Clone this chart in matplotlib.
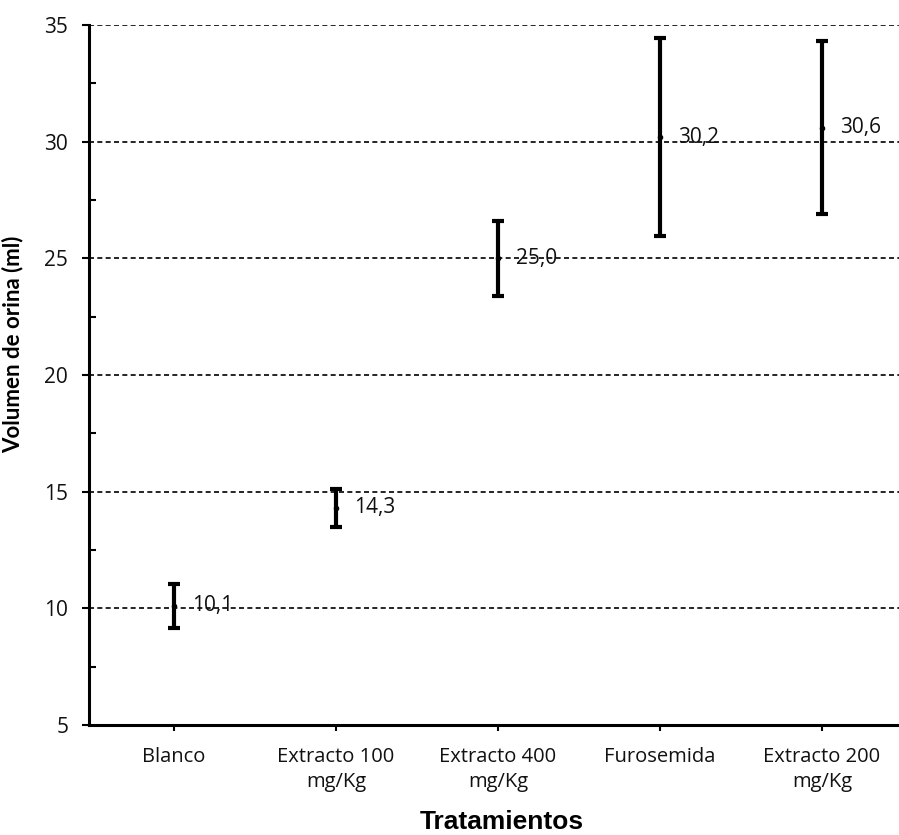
import matplotlib
matplotlib.use("Agg")
import matplotlib.pyplot as plt
from matplotlib.ticker import MultipleLocator

categorias = ["Blanco", "Extracto 100\nmg/Kg", "Extracto 400\nmg/Kg", "Furosemida", "Extracto 200\nmg/Kg"]
medias = [10.1, 14.3, 25.0, 30.2, 30.6]
errores = [0.93, 0.83, 1.62, 4.23, 3.72]
etiquetas = ["10,1", "14,3", "25,0", "30,2", "30,6"]

fig = plt.figure(figsize=(8.99, 8.35), dpi=100)
ax = fig.add_axes([89 / 899, 1 - 725 / 835, 1 - 89 / 899, 700 / 835])

x = list(range(len(categorias)))
ax.errorbar(x, medias, yerr=errores, fmt="o", color="black", markersize=3,
            ecolor="black", elinewidth=3, capsize=4.5, capthick=3, zorder=3)

for xi, yi, txt in zip(x, medias, etiquetas):
    ax.annotate(txt, (xi, yi), xytext=(13, 0), textcoords="offset points",
                ha="left", va="center", fontsize=15, family="Open Sans", color="#111111")

ax.set_xlim(-0.525, 4.475)
ax.set_ylim(5, 35)
ax.yaxis.set_major_locator(MultipleLocator(5))
ax.yaxis.set_minor_locator(MultipleLocator(2.5))
ax.set_xticks(x)
ax.set_xticklabels(categorias, fontsize=14.5, family="Open Sans", color="#111111", linespacing=1.35)

for t in [10, 15, 20, 25, 30, 35]:
    ax.axhline(t, color="black", linestyle=(0, (3, 2)), linewidth=1.2, zorder=1)

for s in ["top", "right"]:
    ax.spines[s].set_visible(False)
for s in ["left", "bottom"]:
    ax.spines[s].set_linewidth(2.2)
    ax.spines[s].set_color("black")

ax.tick_params(axis="y", which="major", direction="out", length=5, width=1.5,
               labelsize=15, pad=10)
ax.tick_params(axis="y", which="minor", direction="in", length=5, width=1.5)
ax.tick_params(axis="x", which="major", direction="out", length=4, width=1.5, pad=12)
for lab in ax.get_yticklabels():
    lab.set_family("Open Sans")
    lab.set_color("#111111")

ax.set_ylabel("Volumen de orina (ml)", fontsize=16, fontweight="bold", family="Lato")
ax.yaxis.set_label_coords((23 - 89) / 810, (725 - 344) / 700)
ax.set_xlabel("Tratamientos", fontsize=19, fontweight="bold", family="Liberation Sans")
ax.xaxis.set_label_coords((502 - 89) / 810, -(822 - 725) / 700)
ax.xaxis.label.set_va("center")

fig.savefig("out.png", dpi=100)
